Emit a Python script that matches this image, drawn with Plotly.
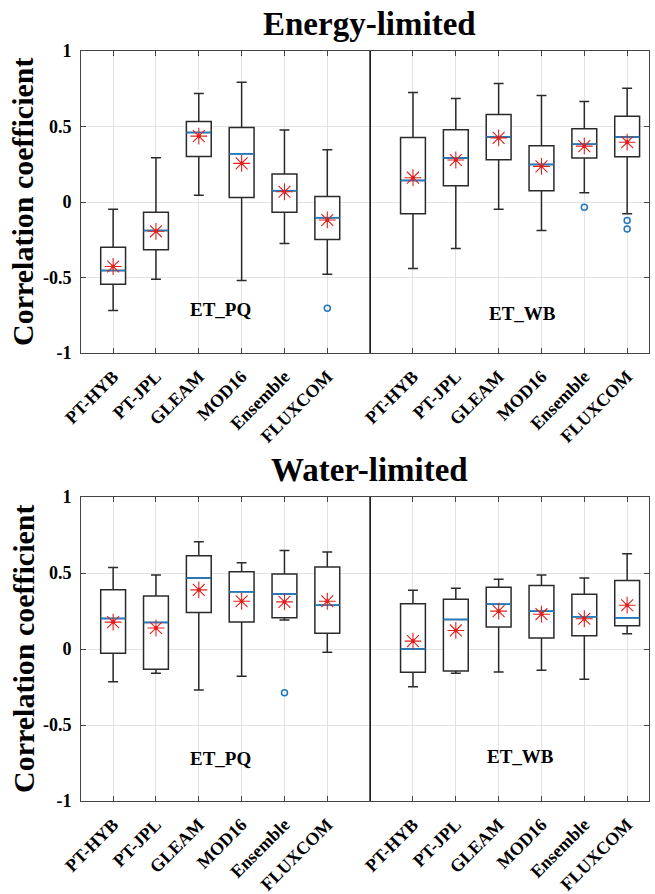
import plotly.graph_objects as go

# Model names, shown once per half of each panel
models = ["PT-HYB", "PT-JPL", "GLEAM", "MOD16", "Ensemble", "FLUXCOM"]
pos_pq = [1, 2, 3, 4, 5, 6]
pos_wb = [8, 9, 10, 11, 12, 13]

# ---- Energy-limited: ET_PQ ----
e_pq_low = [-0.718, -0.511, 0.044, -0.520, -0.275, -0.478]
e_pq_q1 = [-0.544, -0.317, 0.302, 0.029, -0.068, -0.249]
e_pq_med = [-0.454, -0.189, 0.460, 0.319, 0.075, -0.104]
e_pq_q3 = [-0.300, -0.068, 0.533, 0.493, 0.185, 0.037]
e_pq_up = [-0.048, 0.293, 0.718, 0.793, 0.476, 0.346]
e_pq_mean = [-0.427, -0.194, 0.436, 0.256, 0.068, -0.119]
e_pq_out_x = [6]
e_pq_out_y = [-0.703]

# ---- Energy-limited: ET_WB ----
e_wb_low = [-0.440, -0.308, -0.048, -0.189, 0.062, -0.077]
e_wb_q1 = [-0.077, 0.108, 0.280, 0.075, 0.291, 0.300]
e_wb_med = [0.143, 0.291, 0.430, 0.249, 0.383, 0.430]
e_wb_q3 = [0.427, 0.478, 0.579, 0.372, 0.485, 0.568]
e_wb_up = [0.725, 0.685, 0.784, 0.705, 0.665, 0.753]
e_wb_mean = [0.161, 0.278, 0.425, 0.236, 0.370, 0.396]
e_wb_out_x = [12, 13, 13]
e_wb_out_y = [-0.035, -0.123, -0.178]

# ---- Water-limited: ET_PQ ----
w_pq_low = [-0.216, -0.159, -0.269, -0.179, 0.190, -0.022]
w_pq_q1 = [-0.028, -0.133, 0.240, 0.177, 0.205, 0.103]
w_pq_med = [0.201, 0.175, 0.467, 0.376, 0.362, 0.288]
w_pq_q3 = [0.389, 0.349, 0.614, 0.509, 0.493, 0.539]
w_pq_up = [0.537, 0.487, 0.705, 0.568, 0.648, 0.638]
w_pq_mean = [0.177, 0.138, 0.389, 0.314, 0.310, 0.314]
w_pq_out_x = [5]
w_pq_out_y = [-0.288]

# ---- Water-limited: ET_WB ----
w_wb_low = [-0.249, -0.159, -0.151, -0.140, -0.199, 0.100]
w_wb_q1 = [-0.153, -0.144, 0.144, 0.072, 0.087, 0.153]
w_wb_med = [0.000, 0.194, 0.295, 0.249, 0.212, 0.205]
w_wb_q3 = [0.297, 0.328, 0.406, 0.417, 0.360, 0.450]
w_wb_up = [0.386, 0.400, 0.459, 0.487, 0.467, 0.627]
w_wb_mean = [0.052, 0.122, 0.249, 0.229, 0.199, 0.288]
w_wb_out_x = []
w_wb_out_y = []

panel_titles = ["Energy-limited", "Water-limited"]
group_labels = ["ET_PQ", "ET_WB"]
y_title = "Correlation coefficient"

SERIF = "Liberation Serif"
BOX_W = 0.58
BOX_LINE = "#2a2a2a"
MED_BLUE = "#1f7fc8"
MEAN_RED = "#e0201c"
OUT_BLUE = "#1f78c0"

W, H = 655, 894
fig = go.Figure()


def add_group(xa, ya, pos, low, q1, med, q3, up, mean, ox, oy):
    fig.add_trace(go.Box(
        x=pos, lowerfence=low, q1=q1, median=med, q3=q3, upperfence=up,
        xaxis=xa, yaxis=ya, width=BOX_W, whiskerwidth=0.4,
        fillcolor="white", line=dict(color=BOX_LINE, width=1.5),
        boxpoints=False, hoverinfo="skip", showlegend=False,
    ))
    # blue median bars
    mx, my = [], []
    for p, m in zip(pos, med):
        mx += [p - BOX_W / 2, p + BOX_W / 2, None]
        my += [m, m, None]
    fig.add_trace(go.Scatter(
        x=mx, y=my, xaxis=xa, yaxis=ya, mode="lines",
        line=dict(color=MED_BLUE, width=1.6), hoverinfo="skip", showlegend=False,
    ))
    # mean markers: red asterisk with a dot in the centre
    fig.add_trace(go.Scatter(
        x=pos, y=mean, xaxis=xa, yaxis=ya, mode="markers",
        marker=dict(symbol="asterisk-open", size=14, color=MEAN_RED,
                    line=dict(color=MEAN_RED, width=1.1)),
        hoverinfo="skip", showlegend=False,
    ))
    fig.add_trace(go.Scatter(
        x=pos, y=mean, xaxis=xa, yaxis=ya, mode="markers",
        marker=dict(symbol="circle", size=4, color=MEAN_RED),
        hoverinfo="skip", showlegend=False,
    ))
    if ox:
        fig.add_trace(go.Scatter(
            x=ox, y=oy, xaxis=xa, yaxis=ya, mode="markers",
            marker=dict(symbol="circle-open", size=6, color=OUT_BLUE,
                        line=dict(color=OUT_BLUE, width=1.5)),
            hoverinfo="skip", showlegend=False,
        ))


add_group("x", "y", pos_pq, e_pq_low, e_pq_q1, e_pq_med, e_pq_q3, e_pq_up,
          e_pq_mean, e_pq_out_x, e_pq_out_y)
add_group("x", "y", pos_wb, e_wb_low, e_wb_q1, e_wb_med, e_wb_q3, e_wb_up,
          e_wb_mean, e_wb_out_x, e_wb_out_y)
add_group("x2", "y2", pos_pq, w_pq_low, w_pq_q1, w_pq_med, w_pq_q3, w_pq_up,
          w_pq_mean, w_pq_out_x, w_pq_out_y)
add_group("x2", "y2", pos_wb, w_wb_low, w_wb_q1, w_wb_med, w_wb_q3, w_wb_up,
          w_wb_mean, w_wb_out_x, w_wb_out_y)

# panel placement in pixels (left, right, top, bottom)
x_dom = [81 / W, 649 / W]
top_px = (51, 353)
bot_px = (497, 801)
top_dom = [1 - top_px[1] / H, 1 - top_px[0] / H]
bot_dom = [1 - bot_px[1] / H, 1 - bot_px[0] / H]

tick_pos = pos_pq + pos_wb
tick_txt = models + models

xaxis_common = dict(
    domain=x_dom, range=[0.25, 13.51], tickmode="array",
    tickvals=tick_pos, ticktext=tick_txt, tickangle=-45,
    tickfont=dict(family=SERIF, size=18, color="black", weight="bold"),
    showgrid=True, gridcolor="#e3e3e3", gridwidth=1, zeroline=False,
    showline=True, linecolor="#444444", linewidth=1, mirror="ticks",
    ticks="inside", ticklen=5, tickcolor="#444444", automargin=False,
    ticklabelstandoff=5,
)
yaxis_common = dict(
    range=[-1, 1], tickmode="array", tickvals=[-1, -0.5, 0, 0.5, 1],
    ticktext=["-1", "-0.5", "0", "0.5", "1"],
    tickfont=dict(family=SERIF, size=18, color="black", weight="bold"),
    showgrid=True, gridcolor="#e3e3e3", gridwidth=1, zeroline=False,
    showline=True, linecolor="#444444", linewidth=1, mirror="ticks",
    ticks="inside", ticklen=5, tickcolor="#444444", automargin=False,
    ticklabelstandoff=5,
)

fig.update_layout(
    width=W, height=H, margin=dict(l=0, r=0, t=0, b=0),
    paper_bgcolor="white", plot_bgcolor="white", showlegend=False,
    xaxis=dict(anchor="y", **xaxis_common),
    yaxis=dict(anchor="x", domain=top_dom, **yaxis_common),
    xaxis2=dict(anchor="y2", **xaxis_common),
    yaxis2=dict(anchor="x2", domain=bot_dom, **yaxis_common),
)

# vertical separator between the two product groups
for xr, yr in (("x", "y"), ("x2", "y2")):
    fig.add_shape(type="line", xref=xr, yref=yr, x0=7, x1=7, y0=-1, y1=1,
                  line=dict(color="black", width=1.5), layer="above")

annotations = []
for title, (pt, pb) in zip(panel_titles, (top_px, bot_px)):
    annotations.append(dict(
        text=title, xref="paper", yref="paper", x=369 / W, y=1 - (pt - 27) / H,
        xanchor="center", yanchor="middle", showarrow=False,
        font=dict(family=SERIF, size=33, color="black", weight="bold"),
    ))
    annotations.append(dict(
        text=y_title, xref="paper", yref="paper", x=23 / W,
        y=1 - ((pt + pb) / 2) / H, xanchor="center", yanchor="middle",
        textangle=-90, showarrow=False,
        font=dict(family=SERIF, size=30, color="black", weight="bold"),
    ))

label_xy = [("x", "y", 3.5, -0.715, group_labels[0]),
            ("x", "y", 10.55, -0.74, group_labels[1]),
            ("x2", "y2", 3.5, -0.72, group_labels[0]),
            ("x2", "y2", 10.5, -0.71, group_labels[1])]
for xr, yr, lx, ly, txt in label_xy:
    annotations.append(dict(
        text=txt, xref=xr, yref=yr, x=lx, y=ly, showarrow=False,
        xanchor="center", yanchor="middle",
        font=dict(family=SERIF, size=19, color="black", weight="bold"),
    ))

fig.update_layout(annotations=annotations)
fig.write_html("out.html")
